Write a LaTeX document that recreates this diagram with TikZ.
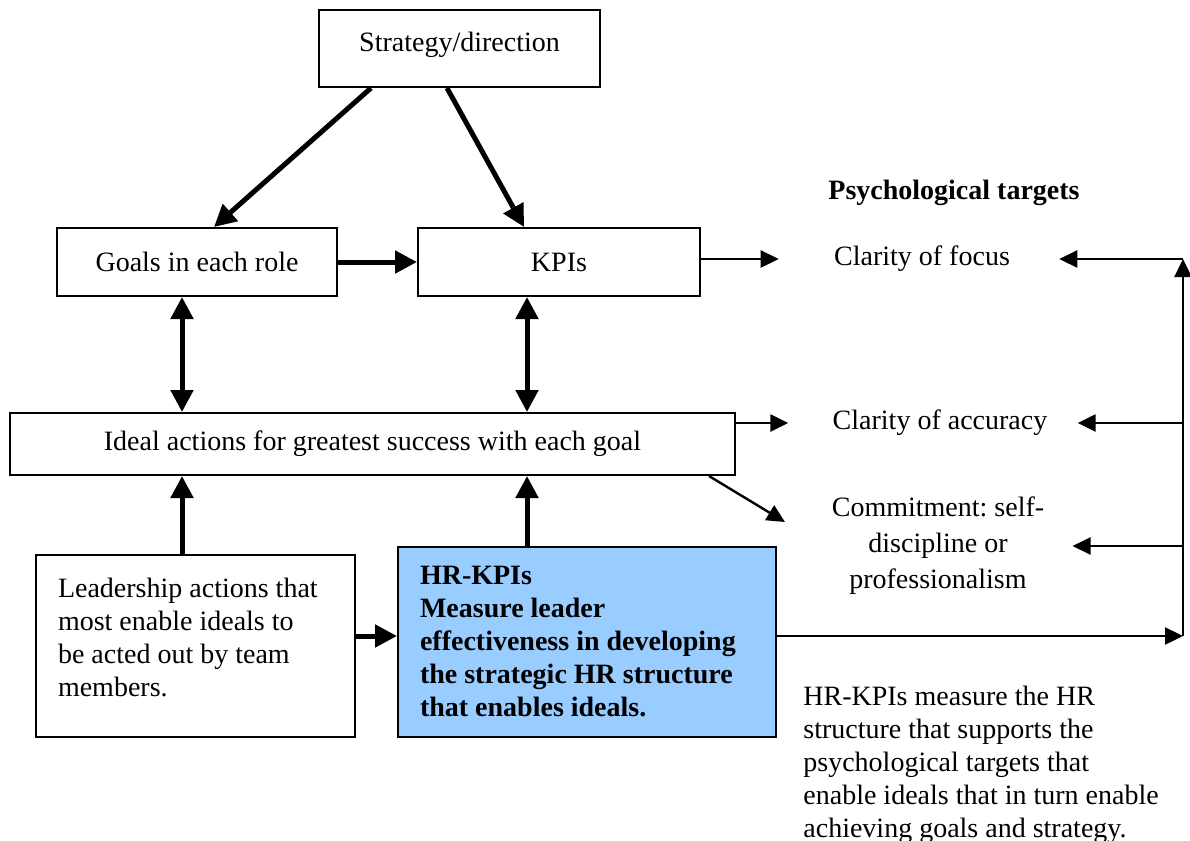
\documentclass[tikz,border=0pt]{standalone}
\usepackage{fontspec}
\setmainfont{Liberation Serif}
\usetikzlibrary{arrows.meta,calc}
\definecolor{hrblue}{RGB}{153,204,255}
\frenchspacing
\begin{document}
\begin{tikzpicture}[x=0.5pt,y=-0.5pt,
  font=\fontsize{14}{16.5}\selectfont,
  box/.style={draw, line width=1pt, inner sep=0pt, align=center},
  lbl/.style={inner sep=0pt, align=center},
  heavy/.style={line width=2.5pt, -{Triangle[length=11pt,width=11pt]}},
  twoway/.style={line width=2.5pt, {Triangle[length=11pt,width=11pt]}-{Triangle[length=11pt,width=11pt]}},
  light/.style={line width=1.2pt, -{Triangle[length=9pt,width=8.5pt]}},
]
\useasboundingbox (0,0) rectangle (1190,841);

% boxes
\node[box, minimum width=140.5pt, minimum height=38.5pt, text height=11.5pt, text depth=8.5pt] (strat) at (459.5,48.5) {Strategy/direction};
\node[box, minimum width=140pt, minimum height=34pt] (goals) at (197,262) {Goals in each role};
\node[box, minimum width=141pt, minimum height=34pt] (kpi) at (559,262) {KPIs};
\node[box, minimum width=362.5pt, minimum height=31pt] (ideal) at (372.5,444) {Ideal actions for greatest success with each goal};
\node[box, minimum width=159.5pt, minimum height=91pt, align=flush left, inner xsep=11pt, text width=137.5pt] (lead) at (195.5,646)
  {Leadership actions that\\ most enable ideals to\\ be acted out by team\\ members.\\[-8pt]\mbox{}};
\node[box, fill=hrblue, minimum width=189pt, minimum height=95pt, align=flush left, inner xsep=11pt, text width=167pt,
  font=\fontsize{14}{16.5}\selectfont\bfseries] (hr) at (587,642)
  {HR-KPIs\\ Measure leader\\ effectiveness in developing\\ the strategic HR structure\\ that enables ideals.};

% psychological targets
\node[lbl, font=\fontsize{14}{16.5}\selectfont\bfseries] (psy) at (954,193) {Psychological targets};
\node[lbl] (focus) at (922,259) {Clarity of focus};
\node[lbl] (acc) at (940,423) {Clarity of accuracy};
\node[lbl, font=\fontsize{14}{18}\selectfont] (commit) at (938,546) {Commitment: self-\\ discipline or\\ professionalism};
\node[lbl, align=left, anchor=north west] (note) at (803,686)
  {HR-KPIs measure the HR\\ structure that supports the\\ psychological targets that\\ enable ideals that in turn enable\\ achieving goals and strategy.};

% guide coordinates
\coordinate (colA) at (182,0);
\coordinate (colB) at (527,0);
\coordinate (rowH) at (0,636);
\coordinate (rail) at (1183,0);
\coordinate (railBot) at (1183,636);
\coordinate (railTop) at (rail |- focus);
\coordinate (commitIn) at (785,522);

% heavy connectors
\draw[heavy] ($(strat.south west)+(53,0)$) -- ($(goals.north west)+(158,0)$);
\draw[heavy] ($(strat.south west)+(129,0)$) -- ($(kpi.north west)+(107,0)$);
\draw[heavy] (goals) -- (kpi);
\draw[twoway] (colA |- goals.south) -- (colA |- ideal.north);
\draw[twoway] (colB |- kpi.south) -- (colB |- ideal.north);
\draw[heavy] (colA |- lead.north) -- (colA |- ideal.south);
\draw[heavy] (colB |- hr.north) -- (colB |- ideal.south);
\draw[heavy] (lead.east |- rowH) -- (hr.west |- rowH);

% light connectors
\draw[light, shorten >=27.5pt] (kpi.east |- focus) -- (focus.west);
\draw[light, shorten >=22pt] (ideal.east |- acc) -- (acc.west);
\draw[light] ($(ideal.south east)+(-27,0)$) -- (commitIn);
\draw[light] (hr.east |- rowH) -- (railBot);
\draw[light] (railBot) -- (railTop);
\draw[light, shorten >=24.5pt] (railTop) -- (focus.east);
\draw[light, shorten >=15pt] (rail |- acc) -- (acc.east);
\draw[light, shorten >=14pt] (rail |- commit) -- (commit.east);
\end{tikzpicture}
\end{document}
